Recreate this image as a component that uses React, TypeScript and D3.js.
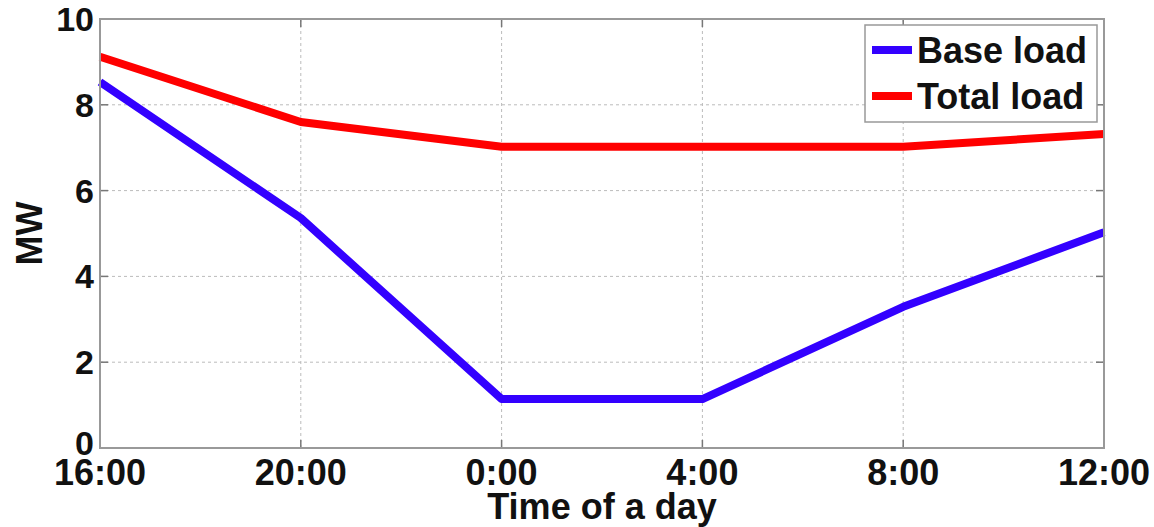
import React from "react";
import * as d3 from "d3";

const timeLabels = ["16:00", "20:00", "0:00", "4:00", "8:00", "12:00"];
const baseLoad = [8.53, 5.36, 1.14, 1.14, 3.29, 5.03];
const totalLoad = [9.12, 7.6, 7.02, 7.02, 7.02, 7.32];
const yTicks = [0, 2, 4, 6, 8, 10];
const seriesNames = ["Base load", "Total load"];
const seriesColors = ["#3300ff", "#ff0000"];

export default function App() {
  const W = 1154, H = 527;
  const L = 100, R = 1104, T = 19, B = 448;
  const x = d3.scaleLinear().domain([0, timeLabels.length - 1]).range([L, R]);
  const y = d3.scaleLinear().domain([0, 10]).range([B, T]);
  const line = d3.line<number>().x((_, i) => x(i)).y((d) => y(d));
  const font = "'Liberation Sans', Arial, sans-serif";
  return (
    <svg width={W} height={H} style={{ position: "absolute", left: 0, top: 0 }}>
      <rect width={W} height={H} fill="#fff" />
      {/* grid */}
      {yTicks.slice(1, -1).map((t) => (
        <line key={"gy" + t} x1={L} x2={R} y1={y(t)} y2={y(t)} stroke="#bbb" strokeWidth={1} strokeDasharray="3,3" />
      ))}
      {timeLabels.slice(1, -1).map((_, i) => (
        <line key={"gx" + i} x1={x(i + 1)} x2={x(i + 1)} y1={T} y2={B} stroke="#bbb" strokeWidth={1} strokeDasharray="3,3" />
      ))}
      {/* ticks */}
      {yTicks.map((t) => (
        <g key={"ty" + t}>
          <line x1={L} x2={L + 8} y1={y(t)} y2={y(t)} stroke="#777" strokeWidth={1.5} />
          <line x1={R} x2={R - 8} y1={y(t)} y2={y(t)} stroke="#777" strokeWidth={1.5} />
          <text x={94} y={y(t) + (t === 0 ? 7 : 12)} textAnchor="end" fontFamily={font} fontWeight="bold" fontSize={34} fill="#111">{t}</text>
        </g>
      ))}
      {timeLabels.map((lab, i) => (
        <g key={"tx" + i}>
          <line x1={x(i)} x2={x(i)} y1={B} y2={B - 8} stroke="#777" strokeWidth={1.5} />
          <line x1={x(i)} x2={x(i)} y1={T} y2={T + 8} stroke="#777" strokeWidth={1.5} />
          <text x={x(i)} y={485} textAnchor="middle" fontFamily={font} fontWeight="bold" fontSize={36} fill="#111">{lab}</text>
        </g>
      ))}
      {/* series */}
      <path d={line(baseLoad) || ""} fill="none" stroke={seriesColors[0]} strokeWidth={8} strokeLinejoin="round" />
      <path d={line(totalLoad) || ""} fill="none" stroke={seriesColors[1]} strokeWidth={8} strokeLinejoin="round" />
      {/* frame */}
      <rect x={L} y={T} width={R - L} height={B - T} fill="none" stroke="#999" strokeWidth={2} />
      {/* legend */}
      <rect x={865} y={25} width={232} height={97} fill="#fff" stroke="#999" strokeWidth={1.5} />
      {seriesNames.map((n, i) => (
        <g key={n}>
          <line x1={872} x2={912} y1={50 + i * 46} y2={50 + i * 46} stroke={seriesColors[i]} strokeWidth={8} />
          <text x={917} y={63 + i * 46} fontFamily={font} fontWeight="bold" fontSize={36} fill="#111">{n}</text>
        </g>
      ))}
      {/* axis labels */}
      <text x={(L + R) / 2} y={519} textAnchor="middle" fontFamily={font} fontWeight="bold" fontSize={36} fill="#111">Time of a day</text>
      <text transform={`translate(42, ${(T + B) / 2}) rotate(-90)`} textAnchor="middle" fontFamily={font} fontWeight="bold" fontSize={36} fill="#111">MW</text>
    </svg>
  );
}
